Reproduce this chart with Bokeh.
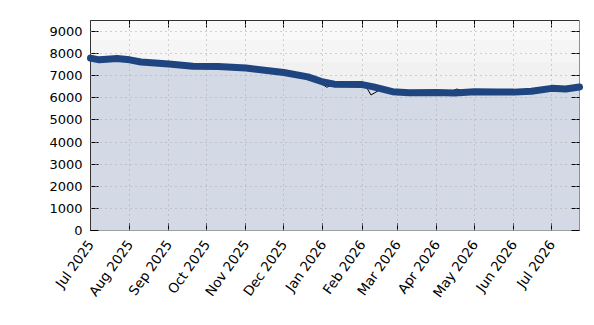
import pandas as pd
from bokeh.plotting import figure
from bokeh.models import (Range1d, LinearAxis, DatetimeAxis, MonthsTicker, FixedTicker,
                          DatetimeTickFormatter, BoxAnnotation, ColumnDataSource,
                          CustomJSTickFormatter)
from bokeh.embed import file_html
from bokeh.resources import INLINE

dates = ["2025-07-01", "2025-07-08", "2025-07-22", "2025-08-01", "2025-08-10",
         "2025-09-01", "2025-09-20", "2025-10-10", "2025-11-01", "2025-12-01",
         "2025-12-20", "2026-01-01", "2026-01-10", "2026-02-01", "2026-02-10",
         "2026-02-25", "2026-03-10", "2026-04-01", "2026-04-15", "2026-05-01",
         "2026-05-20", "2026-06-01", "2026-06-15", "2026-07-01", "2026-07-12",
         "2026-07-23"]
values = [7800, 7720, 7780, 7720, 7620,
          7530, 7430, 7420, 7350, 7150,
          6950, 6720, 6620, 6600, 6500,
          6280, 6230, 6240, 6220, 6280,
          6260, 6260, 6300, 6430, 6400,
          6490]

raw_dates = ["2025-12-28", "2026-01-04", "2026-01-10", "2026-01-24", "2026-01-30",
             "2026-02-04", "2026-02-08", "2026-02-14", "2026-04-10", "2026-04-17",
             "2026-04-24"]
raw_values = [6750, 6480, 6620, 6620, 6680, 6520, 6130, 6330, 6240, 6400, 6250]

y_ticks = [0, 1000, 2000, 3000, 4000, 5000, 6000, 7000, 8000, 9000]

x = pd.to_datetime(dates)
src = ColumnDataSource(dict(x=x, y=values, base=[0] * len(values)))
raw_src = ColumnDataSource(dict(x=pd.to_datetime(raw_dates), y=raw_values))

p = figure(width=594, height=325, frame_width=489, frame_height=210,
           x_axis_type="datetime", output_backend="svg", toolbar_location=None,
           min_border_left=90, min_border_right=15, min_border_top=20, min_border_bottom=95,
           x_range=Range1d(pd.Timestamp("2025-07-01"), pd.Timestamp("2026-07-23")),
           y_range=Range1d(0, 9500))

p.background_fill_color = "#f1f1f1"
p.border_fill_color = "white"
p.outline_line_color = None

for b, t, c in [(8600, 9500, "#f9f9f9"), (7600, 8600, "#f5f5f5")]:
    p.add_layout(BoxAnnotation(bottom=b, top=t, fill_color=c, fill_alpha=1.0,
                               line_color=None, level="underlay"))

p.varea(x="x", y1="base", y2="y", source=src, fill_color="#d3d9e5")
p.line(x="x", y="y", source=raw_src, line_color="black", line_width=1)
p.line(x="x", y="y", source=src, line_color="#1f4580", line_width=7,
       line_join="round", line_cap="round", level="overlay")

grid_kw = dict(grid_line_color="#a8a8a8", grid_line_dash="1 4", grid_line_width=1,
               level="annotation")
p.xgrid.update(**grid_kw)
p.ygrid.update(**grid_kw)

months = list(range(12))
fmt = DatetimeTickFormatter(months="%b %Y", days="%b %Y", years="%b %Y")
blank = CustomJSTickFormatter(code="return ''")

xa = p.xaxis[0]
xa.ticker = MonthsTicker(months=months)
xa.formatter = fmt
xa.major_label_orientation = 0.95
xa.major_tick_in = 7
xa.major_tick_out = 0
xa.minor_tick_in = 0
xa.minor_tick_out = 0
xa.axis_line_color = "#a0a0a0"
xa.major_label_text_font = "DejaVu Sans"
xa.major_label_text_font_size = "13.5px"
xa.major_label_text_color = "black"
xa.major_label_standoff = 11

ya = p.yaxis[0]
ya.ticker = FixedTicker(ticks=y_ticks)
ya.major_tick_in = 8
ya.major_tick_out = 0
ya.minor_tick_in = 0
ya.minor_tick_out = 0
ya.axis_line_color = "#333333"
ya.major_label_text_font = "DejaVu Sans"
ya.major_label_text_font_size = "13px"
ya.major_label_text_color = "black"
ya.major_label_standoff = 8

top = DatetimeAxis(ticker=MonthsTicker(months=months), formatter=blank,
                   major_tick_in=7, major_tick_out=0, minor_tick_in=0, minor_tick_out=0,
                   major_label_standoff=0, axis_line_color="#333333")
p.add_layout(top, "above")
right = LinearAxis(ticker=FixedTicker(ticks=y_ticks), formatter=blank,
                   major_tick_in=8, major_tick_out=0,
                   minor_tick_in=0, minor_tick_out=0,
                   major_label_standoff=0, axis_line_color="#909090")
p.add_layout(right, "right")

open("out.html", "w").write(file_html(p, INLINE))
